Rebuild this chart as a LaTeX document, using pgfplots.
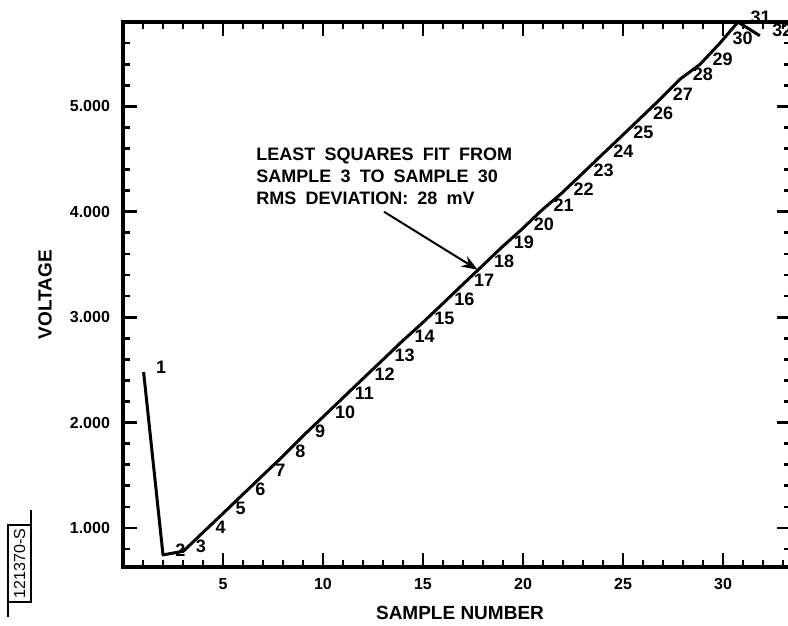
\documentclass[border=0pt]{standalone}
\usepackage{fontspec}
\setmainfont{Liberation Sans}
\usepackage{pgfplots}
\pgfplotsset{compat=1.18}
\usepackage{pgfplotstable}
\usetikzlibrary{arrows.meta}

\pgfplotstableread{
x y lab
1.03 2.48 1
2.00 0.745 2
3.02 0.78 3
4.01 0.96 4
5.01 1.14 5
6.00 1.32 6
6.99 1.50 7
7.99 1.68 8
8.98 1.87 9
9.98 2.05 10
10.97 2.23 11
11.96 2.41 12
12.96 2.59 13
13.95 2.77 14
14.94 2.94 15
15.94 3.12 16
16.93 3.30 17
17.93 3.48 18
18.92 3.66 19
19.92 3.83 20
20.91 4.01 21
21.90 4.17 22
22.90 4.35 23
23.89 4.53 24
24.89 4.71 25
25.88 4.89 26
26.87 5.07 27
27.87 5.26 28
28.86 5.40 29
29.85 5.60 30
30.75 5.80 31
31.84 5.67 32
}\samples

\begin{document}
\begin{tikzpicture}
\begin{axis}[
  scale only axis, width=334pt, height=272.5pt,
  xmin=0, xmax=33.4, ymin=0.63, ymax=5.80,
  clip=false,
  axis line style={line width=2.2pt},
  /pgf/number format/assume math mode=true,
  xtick={5,10,15,20,25,30}, xticklabels={5,10,15,20,25,30},
  minor xtick={1,...,33},
  ytick={1,2,3,4,5}, yticklabels={1.000,2.000,3.000,4.000,5.000},
  minor ytick={0.8,1.2,1.4,1.6,1.8,2.2,2.4,2.6,2.8,3.2,3.4,3.6,3.8,4.2,4.4,4.6,4.8,5.2,5.4,5.6},
  major tick length=7pt, minor tick length=3.5pt,
  every tick/.style={black, line width=1.4pt},
  tick label style={font=\bfseries\fontsize{8}{9}\selectfont},
  yticklabel style={xshift=-3pt},
  xticklabel style={yshift=-2pt},
  xlabel={SAMPLE NUMBER}, ylabel={VOLTAGE},
  label style={font=\bfseries\fontsize{9.5}{10}\selectfont},
  xlabel style={at={(axis description cs:0.5045,-0.0844)}, anchor=center},
  ylabel style={at={(axis description cs:-0.1168,0.5)}, anchor=center},
]
\addplot[black, line width=1.5pt, mark=none, line join=round,
  nodes near coords, point meta=explicit symbolic,
  every node near coord/.append style={anchor=west, xshift=5.5pt, yshift=2.5pt, inner sep=0pt,
    font=\bfseries\fontsize{9}{9}\selectfont}]
  table[x=x, y=y, meta=lab]{\samples};
\node[anchor=north west, inner sep=0pt, align=left,
  font={\bfseries\fontsize{9}{11}\selectfont\spaceskip=4.6pt plus 1pt\relax}]
  at (axis cs:6.65,4.61) {LEAST SQUARES FIT FROM\\SAMPLE 3 TO SAMPLE 30\\RMS DEVIATION: 28 mV};
\draw[-{Stealth[length=8pt,width=6pt]}, line width=1pt] (axis cs:13.05,4.0) -- (axis cs:17.73,3.45);
\end{axis}
\begin{scope}[shift={(current axis.south west)}]
\draw[line width=0.8pt] (-57.5pt,-17.5pt) rectangle (-46pt,21pt);
\draw[line width=0.8pt] (-46pt,21pt) -- (-46pt,28.5pt);
\draw[line width=0.8pt] (-57.5pt,-17.5pt) -- (-57.5pt,-25pt);
\node[rotate=90, font=\fontsize{8}{8}\selectfont] at (-51.75pt,1.75pt) {121370-S};
\end{scope}
\pgfresetboundingbox
\path[use as bounding box] ([xshift=-61.5pt,yshift=-29pt]current axis.south west) rectangle ([xshift=-1.5pt,yshift=11pt]current axis.north east);
\end{tikzpicture}
\end{document}
